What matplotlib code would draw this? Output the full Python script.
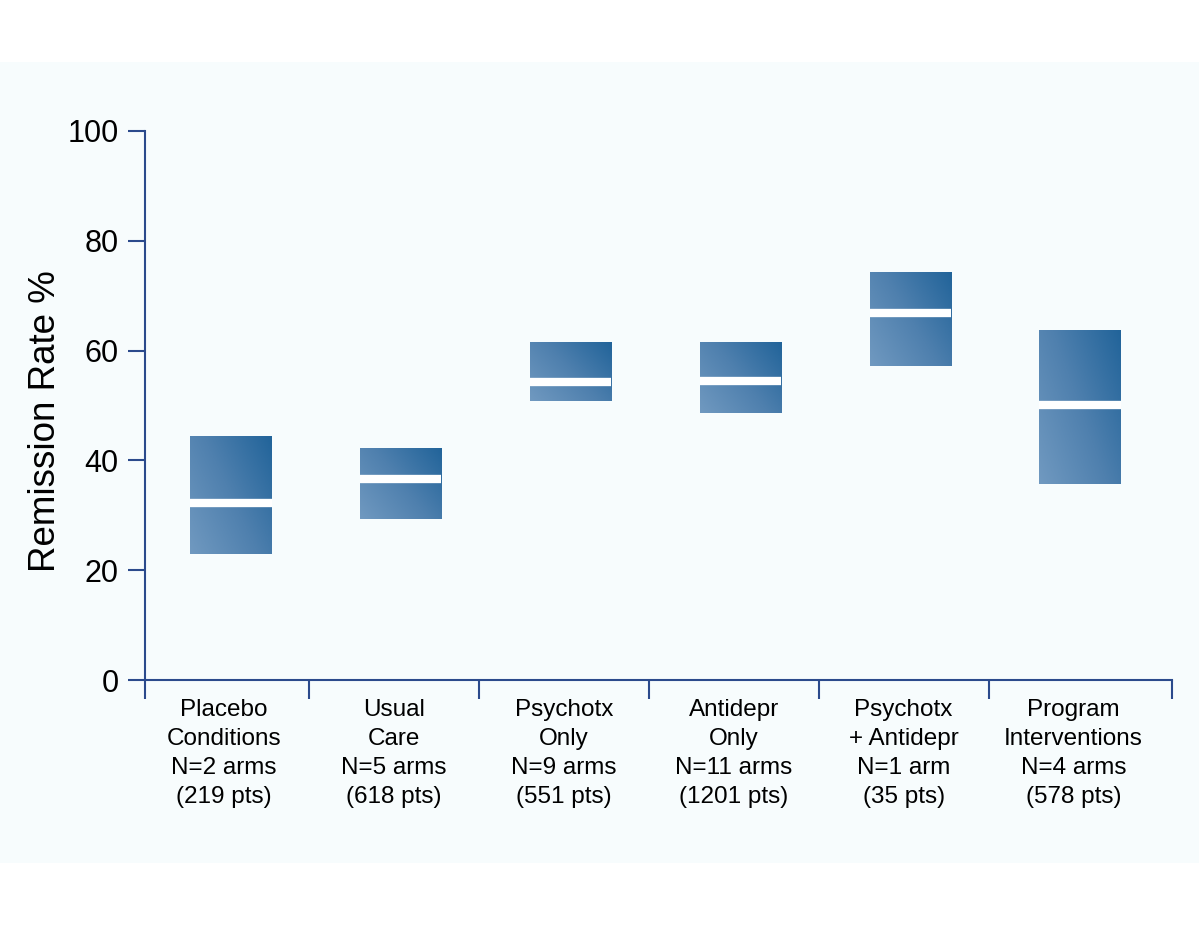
import numpy as np
import matplotlib.pyplot as plt
import matplotlib.patches as mpatches
from matplotlib.colors import LinearSegmentedColormap

plt.rcParams['font.family'] = ['Liberation Sans', 'DejaVu Sans']

# data (remission rate %, low / median / high)
categories = ['Placebo\nConditions\nN=2 arms\n(219 pts)',
              'Usual\nCare\nN=5 arms\n(618 pts)',
              'Psychotx\nOnly\nN=9 arms\n(551 pts)',
              'Antidepr\nOnly\nN=11 arms\n(1201 pts)',
              'Psychotx\n+ Antidepr\nN=1 arm\n(35 pts)',
              'Program\nInterventions\nN=4 arms\n(578 pts)']
low = [22.9, 29.3, 50.8, 48.6, 57.2, 35.7]
mid = [32.2, 36.6, 54.3, 54.5, 66.8, 50.1]
high = [44.3, 42.1, 61.4, 61.4, 74.3, 63.6]
yticks = [0, 20, 40, 60, 80, 100]

axis_col = '#2B4A8C'
W, H = 1199, 926
fig = plt.figure(figsize=(W / 100, H / 100), dpi=100)
fig.patch.set_facecolor('white')

# pale panel behind the chart
fig.patches.append(mpatches.Rectangle((0, 1 - 863 / H), 1, (863 - 62) / H,
                                      transform=fig.transFigure,
                                      facecolor='#F7FCFD', edgecolor='none', zorder=-10))

ax = fig.add_axes([145 / W, 1 - 680 / H, (1172 - 145) / W, (680 - 131) / H])
ax.set_facecolor('none')
ax.set_zorder(5)
xl, xr = -0.465, 5.58

cmap = LinearSegmentedColormap.from_list('box', ['#7099C0', '#4F80AE', '#22649A'])
gx, gy = np.meshgrid(np.linspace(0, 1, 60), np.linspace(0, 1, 60))
grad = (gx * 0.6 + gy * 0.4)

bw = 0.48
for i in range(len(categories)):
    c = i + 0.04
    ax.imshow(grad, cmap=cmap, origin='lower', aspect='auto',
              extent=(c - bw / 2, c + bw / 2, low[i], high[i]), zorder=2)
    ax.plot([c - bw / 2, c + bw / 2], [mid[i], mid[i]], color='white',
            lw=6, solid_capstyle='butt', zorder=3)
ax.set_xlim(xl, xr)
ax.set_ylim(0, 100)

for s in ['top', 'right']:
    ax.spines[s].set_visible(False)
for s in ['left', 'bottom']:
    ax.spines[s].set_color(axis_col)
    ax.spines[s].set_linewidth(1.5)

ax.set_yticks(yticks)
ax.tick_params(axis='y', direction='out', length=12, width=1.5, color=axis_col,
               labelsize=22, pad=7)

seps = [xl] + [i + 0.5 for i in range(len(categories) - 1)] + [xr]
ax.set_xticks(seps)
ax.set_xticklabels([''] * len(seps))
ax.tick_params(axis='x', which='major', direction='out', length=14, width=1.5,
               color=axis_col)
ax.set_xticks(range(len(categories)), minor=True)
ax.set_xticklabels(categories, minor=True, fontsize=17.5, linespacing=1.4)
ax.tick_params(axis='x', which='minor', length=0, pad=14)

ax.set_ylabel('Remission Rate %', fontsize=26.5)
ax.yaxis.set_label_coords(-0.08, 0.472)

fig.savefig('out.png', dpi=100)
